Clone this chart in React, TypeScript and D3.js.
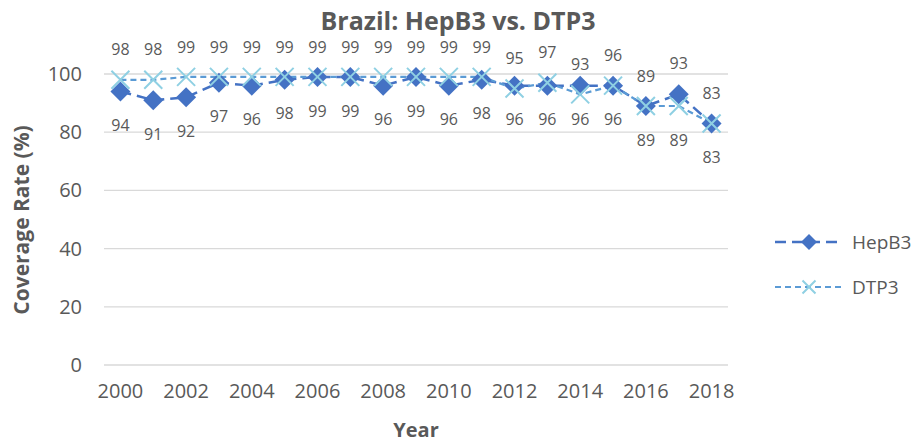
import React from 'react'
import * as d3 from 'd3'

const years = [2000, 2001, 2002, 2003, 2004, 2005, 2006, 2007, 2008, 2009, 2010, 2011, 2012, 2013, 2014, 2015, 2016, 2017, 2018]
const hepB3 = [94, 91, 92, 97, 96, 98, 99, 99, 96, 99, 96, 98, 96, 96, 96, 96, 89, 93, 83]
const dtp3 = [98, 98, 99, 99, 99, 99, 99, 99, 99, 99, 99, 99, 95, 97, 93, 96, 89, 89, 83]
const yTicks = [0, 20, 40, 60, 80, 100]
// years where HepB3 label sits above and DTP3 below
const swappedLabels = [2017]

const W = 916
const H = 444
const FONT = '"Open Sans", sans-serif'
const TEXT = '#595959'
const HEP_COLOR = '#4472C4'
const DTP_LINE = '#5B9BD5'
const DTP_MARK = '#8FD0E3'

const diamond = (cx: number, cy: number, r: number) =>
  `M${cx},${cy - r}L${cx + r},${cy}L${cx},${cy + r}L${cx - r},${cy}Z`

const cross = (cx: number, cy: number, r: number) =>
  `M${cx - r},${cy - r}L${cx + r},${cy + r}M${cx - r},${cy + r}L${cx + r},${cy - r}`

export default function App () {
  const x = d3.scaleBand<number>().domain(years).range([104, 728])
  const y = d3.scaleLinear().domain([0, 100]).range([365, 74])
  const cx = (yr: number) => (x(yr) as number) + x.bandwidth() / 2

  const line = (vals: number[]) =>
    d3.line<number>()
      .x((_, i) => cx(years[i]))
      .y(d => y(d))(vals) as string

  return (
    <svg width={W} height={H} style={{ position: 'absolute', left: 0, top: 0, background: '#fff' }}>
      <rect width={W} height={H} fill='#fff' />
      <text x={458} y={30} textAnchor='middle' fontFamily={FONT} fontWeight='bold' fontSize={25} fill={TEXT}>
        Brazil: HepB3 vs. DTP3
      </text>

      {yTicks.map(t => (
        <g key={t}>
          <line x1={104} x2={728} y1={y(t)} y2={y(t)} stroke='#d9d9d9' strokeWidth={1.3} />
          <text x={82} y={y(t)} dy='0.35em' textAnchor='end' fontFamily={FONT} fontSize={20} fill={TEXT}>{t}</text>
        </g>
      ))}

      {years.filter((_, i) => i % 2 === 0).map(yr => (
        <text key={yr} x={cx(yr)} y={398} textAnchor='middle' fontFamily={FONT} fontSize={20} fill={TEXT}>{yr}</text>
      ))}

      <text x={416} y={437} textAnchor='middle' fontFamily={FONT} fontWeight='bold' fontSize={20} fill={TEXT}>Year</text>
      <text transform='translate(29,220) rotate(-90)' textAnchor='middle' fontFamily={FONT} fontWeight='bold' fontSize={21} fill={TEXT}>
        Coverage Rate (%)
      </text>

      <path d={line(hepB3)} fill='none' stroke={HEP_COLOR} strokeWidth={2.5} strokeDasharray='11 6' />
      <path d={line(dtp3)} fill='none' stroke={DTP_LINE} strokeWidth={2.2} strokeDasharray='6 4' />

      {hepB3.map((v, i) => (
        <path key={'h' + i} d={diamond(cx(years[i]), y(v), 10)} fill={HEP_COLOR} />
      ))}
      {dtp3.map((v, i) => (
        <path key={'d' + i} d={cross(cx(years[i]), y(v), 9)} fill='none' stroke={DTP_MARK} strokeWidth={2} />
      ))}

      {years.map((yr, i) => {
        const swap = swappedLabels.includes(yr)
        const hY = swap ? y(hepB3[i]) - 31 : y(hepB3[i]) + 34
        const dY = swap ? y(dtp3[i]) + 34 : y(dtp3[i]) - 30
        return (
          <g key={'l' + yr} fontFamily={FONT} fontSize={16} fill={TEXT} textAnchor='middle'>
            <text x={cx(yr)} y={hY} dy='0.35em'>{hepB3[i]}</text>
            <text x={cx(yr)} y={dY} dy='0.35em'>{dtp3[i]}</text>
          </g>
        )
      })}

      <g>
        <line x1={775} x2={843} y1={242} y2={242} stroke={HEP_COLOR} strokeWidth={2.5} strokeDasharray='11 6' />
        <path d={diamond(809, 242, 8)} fill={HEP_COLOR} />
        <text x={852} y={242} dy='0.35em' fontFamily={FONT} fontSize={19} fill={TEXT}>HepB3</text>
        <line x1={775} x2={843} y1={287} y2={287} stroke={DTP_LINE} strokeWidth={2} strokeDasharray='6 4' />
        <path d={cross(809, 287, 6.5)} fill='none' stroke={DTP_MARK} strokeWidth={2} />
        <text x={852} y={287} dy='0.35em' fontFamily={FONT} fontSize={19} fill={TEXT}>DTP3</text>
      </g>
    </svg>
  )
}
